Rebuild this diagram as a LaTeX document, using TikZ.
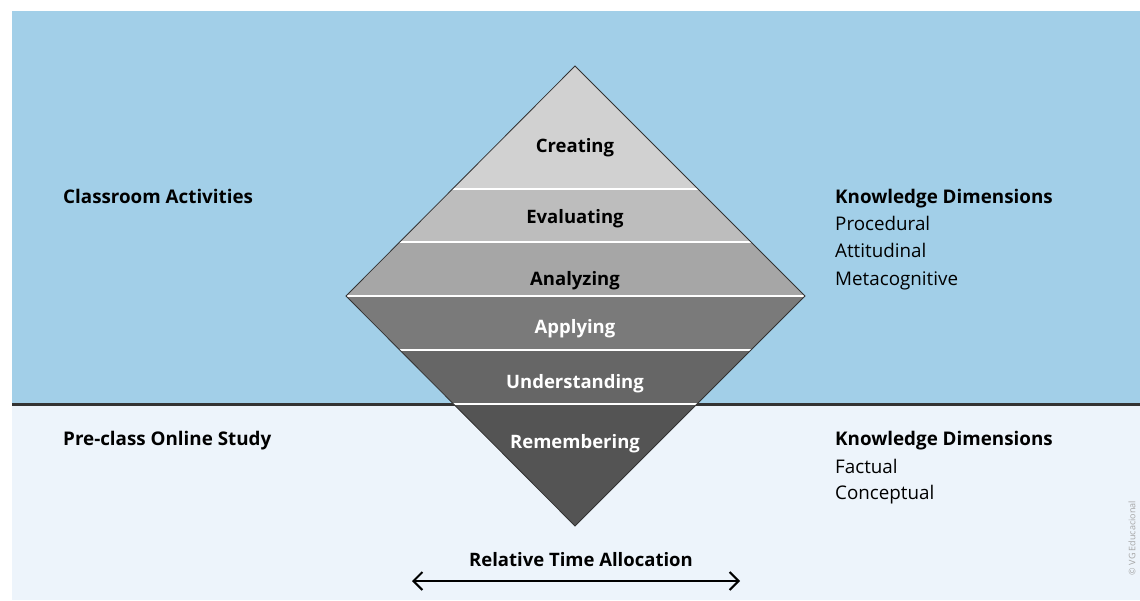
\documentclass[tikz,border=0pt]{standalone}
\usepackage{fontspec}
\setmainfont{Open Sans}
\usepackage{tikz}
\usetikzlibrary{arrows.meta}

\definecolor{skyblue}{HTML}{A2CFE8}
\definecolor{paleblue}{HTML}{EDF4FB}
\definecolor{edgegray}{HTML}{333333}

\tikzset{
    level/.style={font=\fontsize{18.5}{22}\selectfont\bfseries, anchor=base, inner sep=0pt},
    side/.style={font=\fontsize{18.8}{22}\selectfont\bfseries, anchor=base west, inner sep=0pt},
    item/.style={font=\fontsize{18.8}{22}\selectfont, anchor=base west, inner sep=0pt}
}

\begin{document}
\begin{tikzpicture}[x=1pt, y=-1pt]

    \useasboundingbox (0,0) rectangle (1140,600);

    % two panels and the line between them
    \fill[skyblue] (12,11) rectangle (1140,404);
    \fill[paleblue] (12,404) rectangle (1140,600);
    \draw[edgegray, line width=3pt] (12,404) -- (1140,404);

    % the diamond, cut into six bands
    \coordinate (top) at (575,66);
    \coordinate (left) at (346,296);
    \coordinate (right) at (805,296);
    \coordinate (bottom) at (575,526);

    \begin{scope}
        \clip (top) -- (right) -- (bottom) -- (left) -- cycle;
        \fill[black!18] (340,60) rectangle (810,189);
        \fill[black!26] (340,189) rectangle (810,242);
        \fill[black!35] (340,242) rectangle (810,296);
        \fill[black!52] (340,296) rectangle (810,350);
        \fill[black!60] (340,350) rectangle (810,404);
        \fill[black!67] (340,404) rectangle (810,530);
        \foreach \y in {189,242,296,350,404}
            \draw[white, line width=2pt] (340,\y) -- (810,\y);
    \end{scope}
    \draw[edgegray, line width=0.8pt, line join=miter]
        (top) -- (right) -- (bottom) -- (left) -- cycle;

    \node[level] (creating) at (575,152) {Creating};
    \node[level] (evaluating) at (575,223) {Evaluating};
    \node[level] (analyzing) at (575,285) {Analyzing};
    \node[level, white] (applying) at (575,333) {Applying};
    \node[level, white] (understanding) at (575,388) {Understanding};
    \node[level, white] (remembering) at (575,448) {Remembering};

    % left-hand labels
    \node[side] (classroom) at (63,203) {Classroom Activities};
    \node[side] (preclass) at (63,445) {Pre-class Online Study};

    % knowledge dimensions on the right
    \node[side] (kdupper) at (835,203) {Knowledge Dimensions};
    \node[item] (procedural) at (835,230) {Procedural};
    \node[item] (attitudinal) at (835,257) {Attitudinal};
    \node[item] (metacognitive) at (835,285) {Metacognitive};

    \node[side] (kdlower) at (835,445) {Knowledge Dimensions};
    \node[item] (factual) at (835,473) {Factual};
    \node[item] (conceptual) at (835,499) {Conceptual};

    % time axis
    \node[level] (timelabel) at (581,566) {Relative Time Allocation};
    \coordinate (timeleft) at (412,581);
    \coordinate (timeright) at (740,581);
    \draw[{Straight Barb[length=9pt,width=18pt]}-{Straight Barb[length=9pt,width=18pt]}, line width=2pt]
        (timeleft) -- (timeright);

    \node[rotate=90, text=black!35, font=\fontsize{9}{10}\selectfont] (credit) at (1132,538) {\textcopyright\ VG Educacional};

\end{tikzpicture}
\end{document}
